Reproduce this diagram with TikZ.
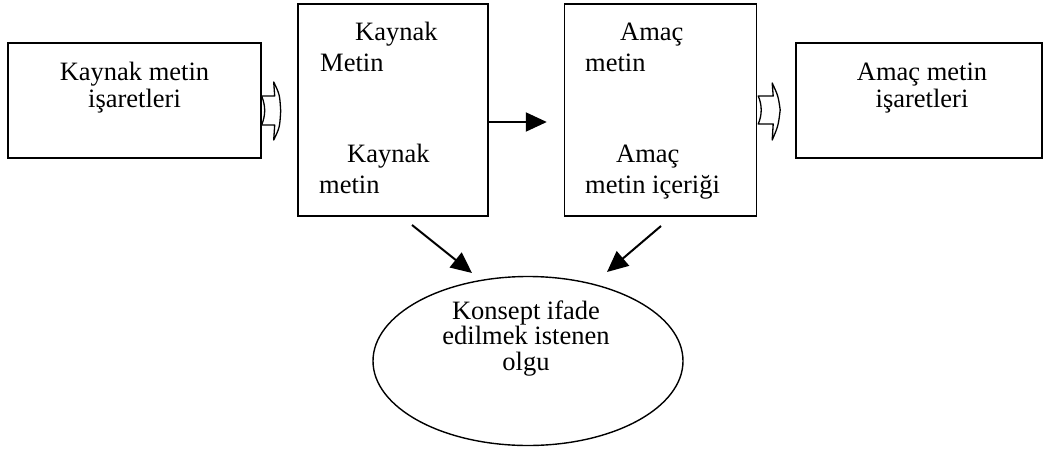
\documentclass[tikz,border=0pt]{standalone}
\usepackage{fontspec}
\setmainfont{Liberation Serif}
\usetikzlibrary{arrows.meta,calc,shapes.geometric}
\tikzset{
  boxst/.style={draw, line width=1.4pt, rectangle, inner sep=0pt},
  txt/.style={inner sep=0pt, font=\fontsize{26.5}{27}\selectfont},
  txtw/.style={inner sep=0pt, font=\fontsize{26.5}{31}\selectfont},
  txtn/.style={inner sep=0pt, font=\fontsize{26.5}{25.5}\selectfont},
  arr/.style={line width=2pt, -{Triangle[length=21pt,width=19pt]}},
  blockarrow/.style={draw, line width=1.3pt, fill=white, line join=round},
}
\begin{document}
\begin{tikzpicture}[x=1pt,y=-1pt]
\useasboundingbox (0,0) rectangle (1044,461);
% boxes
\node[boxst, minimum width=253pt, minimum height=115pt] (b1) at (134.5,100.5) {};
\node[boxst, minimum width=190pt, minimum height=212pt] (b2) at (393,110) {};
\node[boxst, minimum width=192pt, minimum height=212pt] (b3) at (660.5,110) {};
\node[boxst, minimum width=246pt, minimum height=115pt] (b4) at (919,100.5) {};
\node[draw, line width=1.4pt, ellipse, minimum width=310pt, minimum height=169pt, inner sep=0pt] (el) at (528,361) {};
% texts (base anchor = baseline of last line)
\node[txt, align=center, anchor=base] (t1) at (b1.center |- 0,107) {Kaynak metin\\işaretleri};
\node[txtw, align=left, anchor=base west] (t2a) at (320,71) {\hspace*{35pt}Kaynak\\Metin};
\node[txtw, align=left, anchor=base west] (t2b) at (319,193) {\hspace*{28pt}Kaynak\\metin};
\node[txtw, align=left, anchor=base west] (t3a) at (585,71) {\hspace*{35pt}Amaç\\metin};
\node[txtw, align=left, anchor=base west] (t3b) at (585,193) {\hspace*{31pt}Amaç\\metin içeriği};
\node[txt, align=center, anchor=base] (t4) at (922,107) {Amaç metin\\işaretleri};
\node[txtn, align=center, anchor=base] (t5) at (526,370) {Konsept ifade\\edilmek istenen\\olgu};
% block arrows
\draw[blockarrow, shift={(b1.east)}]
  (0,-4.5) -- (13,-4.5) -- (12,-18.5) .. controls (18,-6) .. (19,10.5)
  .. controls (18,27) .. (12,39.5) -- (13,24.5) -- (0,24.5)
  .. controls (4,14) and (4,6) .. (0,-4.5) -- cycle;
\draw[blockarrow, shift={(b3.east)}]
  (1,-14) -- (16,-14) -- (15,-27) .. controls (21,-14) .. (23,0)
  .. controls (21,16) .. (15,30) -- (16,14) -- (1,14)
  .. controls (5,5) and (5,-5) .. (1,-14) -- cycle;
% connectors
\draw[arr] ($(b2.east)+(0,12)$) -- ($(b3.west)+(-17,12)$);
\coordinate (s1) at (412,225);
\coordinate (e1) at (472,273);
\coordinate (s2) at (661,226);
\coordinate (e2) at (607,272);
\draw[arr] (s1) -- (e1);
\draw[arr] (s2) -- (e2);
\end{tikzpicture}
\end{document}
